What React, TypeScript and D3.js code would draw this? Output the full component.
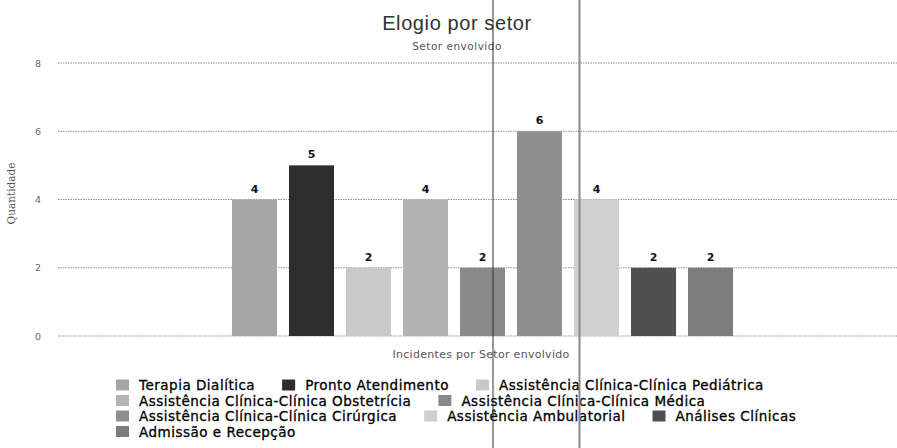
import React, { useRef, useEffect } from 'react';
import * as d3 from 'd3';

// sectors, in the order of bars and legend
const setores = [
  'Terapia Dialítica',
  'Pronto Atendimento',
  'Assistência Clínica-Clínica Pediátrica',
  'Assistência Clínica-Clínica Obstetrícia',
  'Assistência Clínica-Clínica Médica',
  'Assistência Clínica-Clínica Cirúrgica',
  'Assistência Ambulatorial',
  'Análises Clínicas',
  'Admissão e Recepção',
];
const quantidades = [4, 5, 2, 4, 2, 6, 4, 2, 2];
const cores = ['#a6a6a6', '#2e2e2e', '#c9c9c9', '#b3b3b3', '#8a8a8a', '#8f8f8f', '#cfcfcf', '#505050', '#7d7d7d'];
const yTicks = [0, 2, 4, 6, 8];

const App = () => {
  const svgRef = useRef<SVGSVGElement>(null);

  useEffect(() => {
    const svg = d3.select(svgRef.current);
    svg.selectAll('*').remove();

    const width = 897;
    const height = 448;

    const x = d3.scaleBand<number>()
      .domain(d3.range(setores.length))
      .range([226, 739])
      .paddingInner(0.21)
      .paddingOuter(0.105);

    const y = d3.scaleLinear().domain([0, 8]).range([336, 63]);

    // title
    svg.append('text')
      .attr('x', 457).attr('y', 30)
      .attr('text-anchor', 'middle')
      .attr('font-family', 'Liberation Sans, sans-serif')
      .attr('font-size', 20)
      .attr('letter-spacing', 0.6)
      .attr('fill', '#333')
      .text('Elogio por setor');
    svg.append('text')
      .attr('x', 457).attr('y', 50)
      .attr('text-anchor', 'middle')
      .attr('font-family', 'DejaVu Sans, sans-serif')
      .attr('font-size', 10.5)
      .attr('letter-spacing', 0.5)
      .attr('fill', '#555')
      .text('Setor envolvido');

    // gridlines + y labels
    const grid = svg.append('g');
    grid.selectAll('line')
      .data(yTicks)
      .join('line')
      .attr('x1', 58).attr('x2', width)
      .attr('y1', d => y(d)).attr('y2', d => y(d))
      .attr('stroke', '#777')
      .attr('stroke-width', 0.8)
      .attr('stroke-dasharray', '1.5,1');
    grid.selectAll('text')
      .data(yTicks)
      .join('text')
      .attr('x', 41).attr('y', d => y(d) + 3.5)
      .attr('text-anchor', 'end')
      .attr('font-family', 'DejaVu Sans, sans-serif')
      .attr('font-size', 9.5)
      .attr('fill', '#666')
      .text(d => d);

    svg.append('text')
      .attr('transform', `translate(15,${(y(0) + y(8)) / 2 - 6}) rotate(-90)`)
      .attr('text-anchor', 'middle')
      .attr('font-family', 'DejaVu Serif, serif')
      .attr('font-size', 10.5)
      .attr('fill', '#555')
      .text('Quantidade');

    // bars
    svg.append('g')
      .selectAll('rect')
      .data(quantidades)
      .join('rect')
      .attr('x', (d, i) => x(i)!)
      .attr('y', d => y(d))
      .attr('width', x.bandwidth())
      .attr('height', d => y(0) - y(d))
      .attr('fill', (d, i) => cores[i]);

    svg.append('g')
      .selectAll('text')
      .data(quantidades)
      .join('text')
      .attr('x', (d, i) => x(i)! + x.bandwidth() / 2)
      .attr('y', d => y(d) - 7)
      .attr('text-anchor', 'middle')
      .attr('font-family', 'DejaVu Sans, sans-serif')
      .attr('font-weight', 'bold')
      .attr('font-size', 11)
      .attr('fill', '#111')
      .text(d => d);

    svg.append('text')
      .attr('x', 481).attr('y', 358)
      .attr('text-anchor', 'middle')
      .attr('font-family', 'DejaVu Sans, sans-serif')
      .attr('font-size', 11)
      .attr('letter-spacing', 0.3)
      .attr('fill', '#555')
      .text('Incidentes por Setor envolvido');

    // legend, flowing left to right
    const legend = svg.append('g');
    let lx = 116;
    let ly = 385;
    setores.forEach((s, i) => {
      const t = legend.append('text')
        .attr('y', ly + 5)
        .attr('font-family', 'DejaVu Sans, sans-serif')
        .attr('font-size', 13.5)
        .attr('letter-spacing', 0.5)
        .attr('fill', '#000')
        .attr('stroke', '#000')
        .attr('stroke-width', 0.3)
        .text(s);
      const w = (t.node() as SVGTextElement).getComputedTextLength();
      if (lx + 23 + w > 805) {
        lx = 116;
        ly += 15.5;
        t.attr('y', ly + 5);
      }
      t.attr('x', lx + 23);
      legend.append('rect')
        .attr('x', lx).attr('y', ly - 5.5)
        .attr('width', 13).attr('height', 11)
        .attr('fill', cores[i]);
      lx += 23 + w + 27;
    });

    // scan lines visible in the source picture
    svg.append('line')
      .attr('x1', 493).attr('x2', 493).attr('y1', 0).attr('y2', height)
      .attr('stroke', '#333').attr('stroke-width', 1);
    svg.append('line')
      .attr('x1', 579.5).attr('x2', 579.5).attr('y1', 0).attr('y2', height)
      .attr('stroke', '#888').attr('stroke-width', 2);
  }, []);

  return (
    <svg
      ref={svgRef}
      width={897}
      height={448}
      style={{ position: 'absolute', left: 0, top: 0, background: '#fff' }}
    />
  );
};

export default App;
